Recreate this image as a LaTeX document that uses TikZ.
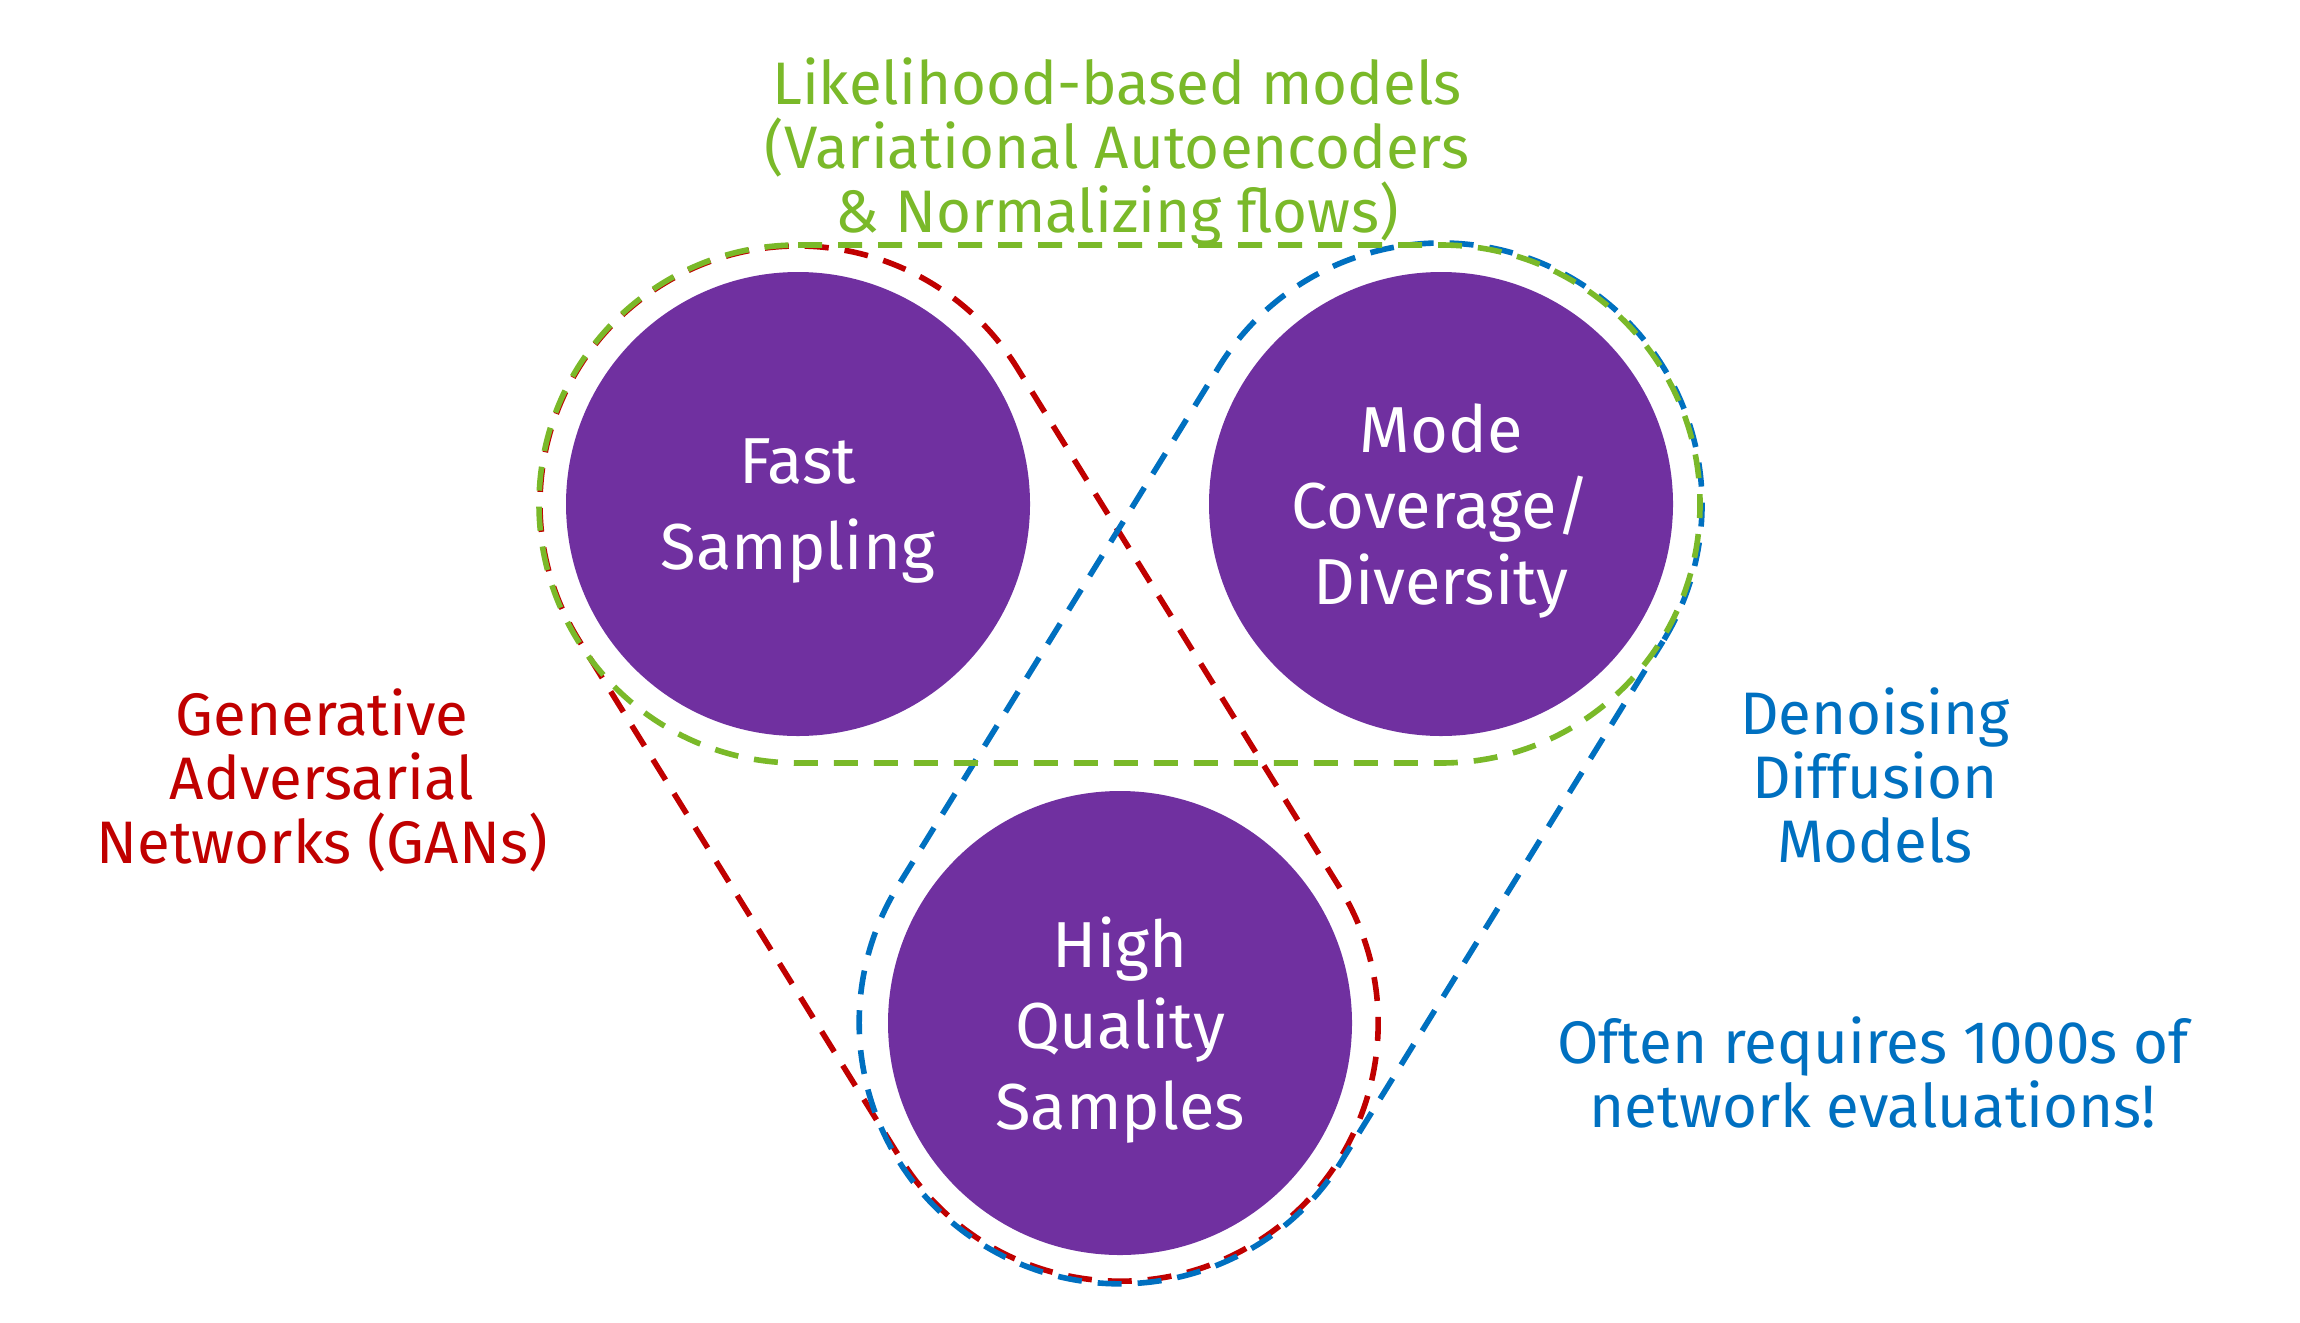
\documentclass[tikz,border=0pt]{standalone}
\usepackage{fontspec}
\setmainfont{Fira Sans}
\definecolor{bubblepurple}{HTML}{7030A0}
\definecolor{likegreen}{HTML}{7AB929}
\definecolor{ganred}{HTML}{C00000}
\definecolor{diffblue}{HTML}{0070C0}
\tikzset{
  bubble/.style={circle, fill=bubblepurple, minimum size=232pt, inner sep=0pt,
    text=white, align=center, text depth=0pt},
  bubblefont/.style={font=\fontsize{32.5}{#1}\selectfont},
  sidelabel/.style={align=center, inner sep=0pt, font=\fontsize{30}{32}\selectfont},
  hull/.style={line width=2.8pt, dash pattern=on 12pt off 8pt},
}
\begin{document}
\begin{tikzpicture}[x=0.5pt,y=0.5pt]
\fill[white] (0,0) rectangle (2300,-1322);
\useasboundingbox (0,0) rectangle (2300,-1322);

% circles
\node[bubble, bubblefont=43] (fast) at (798,-504) {Fast\\Sampling};
\node[bubble, bubblefont=38] (mode) at (1441,-504) {Mode\\Coverage/\\Diversity};
\node[bubble, bubblefont=40.5] (high) at (1120,-1023) {High\\Quality\\Samples};

% red hull: fast -- high
\begin{scope}[shift={(798,-504)}, rotate=-58.18]
\draw[hull, ganred, dash phase=6pt] (0,258) -- (611,258) arc[start angle=90, end angle=-90, radius=258]
  -- (0,-258) arc[start angle=270, end angle=90, radius=258] -- cycle;
\end{scope}
% blue hull: mode -- high
\begin{scope}[shift={(1441,-504)}, rotate=-121.73]
\draw[hull, diffblue, dash phase=3pt] (0,261) -- (610,261) arc[start angle=90, end angle=-90, radius=261]
  -- (0,-261) arc[start angle=270, end angle=90, radius=261] -- cycle;
\end{scope}
% green hull: fast -- mode
\begin{scope}[shift={(798,-504)}]
\draw[hull, likegreen] (0,259) -- (643,259) arc[start angle=90, end angle=-90, radius=259]
  -- (0,-259) arc[start angle=270, end angle=90, radius=259] -- cycle;
\end{scope}

% labels (anchor = baseline of the last line)
\node[sidelabel, text=likegreen, anchor=base] (like) at (1117,-232)
  {Likelihood-based models\\(Variational Autoencoders\\\& Normalizing flows)};
\node[sidelabel, text=ganred, anchor=base] (gan) at (322,-863)
  {Generative\\Adversarial\\Networks (GANs)};
\node[sidelabel, text=diffblue, anchor=base] (ddm) at (1875,-862)
  {Denoising\\Diffusion\\Models};
\node[sidelabel, text=diffblue, anchor=base] (often) at (1873,-1127)
  {Often requires 1000s of\\network evaluations!};
\end{tikzpicture}
\end{document}
